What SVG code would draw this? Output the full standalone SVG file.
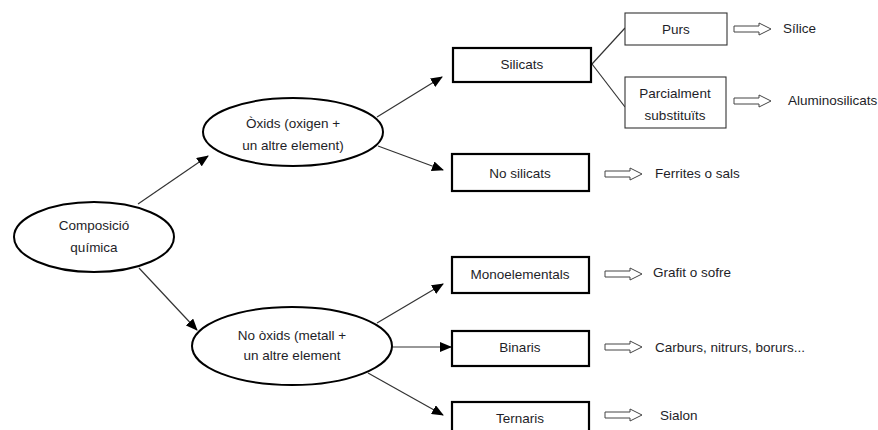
<svg xmlns="http://www.w3.org/2000/svg" xmlns:xlink="http://www.w3.org/1999/xlink" width="878" height="430" viewBox="0 0 878 430">
<style>
text{font-family:"Liberation Sans",Arial,sans-serif;font-size:13.5px;fill:#1e1e28;text-anchor:middle}
.l{text-anchor:start}
.ell{fill:#fff;stroke:#000;stroke-width:2}
.thick{fill:#fff;stroke:#000;stroke-width:2.2}
.thin{fill:#fff;stroke:#333;stroke-width:1.1}
.conn{stroke:#333;stroke-width:1.2;fill:none}
.arr{marker-end:url(#ah)}
.hol{fill:#fff;stroke:#444;stroke-width:1}
</style>
<defs>
<marker id="ah" markerWidth="12" markerHeight="10" refX="11" refY="5" orient="auto" markerUnits="userSpaceOnUse">
<path d="M0,0 L12,5 L0,10 Z" fill="#000"/>
</marker>
<path id="ha" d="M0,-3 H25 V-6 L37,0 L25,6 V3 H0 Z"/>
</defs>
<g id="connectors">
<line class="conn arr" x1="138" y1="204" x2="208" y2="156"/>
<line class="conn arr" x1="139" y1="268" x2="197" y2="330"/>
<line class="conn arr" x1="377" y1="117" x2="442" y2="77"/>
<line class="conn arr" x1="378" y1="146" x2="443" y2="170"/>
<line class="conn arr" x1="377" y1="323" x2="443" y2="284"/>
<line class="conn arr" x1="392" y1="347" x2="451" y2="347"/>
<line class="conn arr" x1="368" y1="373" x2="443" y2="415"/>
<line class="conn" x1="592" y1="64" x2="625" y2="28"/>
<line class="conn" x1="592" y1="64" x2="625" y2="107"/>
<use href="#ha" class="hol" x="734" y="29"/>
<use href="#ha" class="hol" x="734" y="101"/>
<use href="#ha" class="hol" x="605" y="174"/>
<use href="#ha" class="hol" x="605" y="274"/>
<use href="#ha" class="hol" x="605" y="347"/>
<use href="#ha" class="hol" x="605" y="415"/>
</g>
<g id="composicio">
<ellipse class="ell" cx="94" cy="237" rx="80" ry="35"/>
<text x="94" y="230">Composició</text>
<text x="94" y="252">química</text>
</g>
<g id="oxids">
<ellipse class="ell" cx="293" cy="132" rx="90" ry="34"/>
<text x="293" y="128">Òxids (oxigen  +</text>
<text x="293" y="150">un altre element)</text>
</g>
<g id="no-oxids">
<ellipse class="ell" cx="292" cy="346" rx="100" ry="39"/>
<text x="292" y="340">No òxids  (metall +</text>
<text x="292" y="360">un altre element</text>
</g>
<g id="silicats">
<rect class="thick" x="453" y="48" width="138" height="34"/>
<text x="522" y="69">Silicats</text>
</g>
<g id="purs">
<rect class="thin" x="625" y="13" width="102" height="32"/>
<text x="676" y="34">Purs</text>
</g>
<g id="parcialment">
<rect class="thin" x="625" y="77" width="101" height="51"/>
<text x="675" y="98">Parcialment</text>
<text x="675" y="120">substituïts</text>
</g>
<g id="no-silicats">
<rect class="thick" x="452" y="154" width="137" height="37"/>
<text x="520" y="178">No silicats</text>
</g>
<g id="monoelementals">
<rect class="thick" x="452" y="257" width="137" height="36"/>
<text x="520" y="279">Monoelementals</text>
</g>
<g id="binaris">
<rect class="thick" x="452" y="331" width="137" height="35"/>
<text x="520" y="352">Binaris</text>
</g>
<g id="ternaris">
<rect class="thick" x="452" y="402" width="137" height="36"/>
<text x="520" y="423">Ternaris</text>
</g>
<g id="labels">
<text class="l" x="783" y="33">Sílice</text>
<text class="l" x="788" y="105">Aluminosilicats</text>
<text class="l" x="655" y="178">Ferrites o sals</text>
<text class="l" x="653" y="277">Grafit o sofre</text>
<text class="l" x="655" y="352">Carburs, nitrurs, borurs...</text>
<text class="l" x="660" y="420">Sialon</text>
</g>
</svg>
